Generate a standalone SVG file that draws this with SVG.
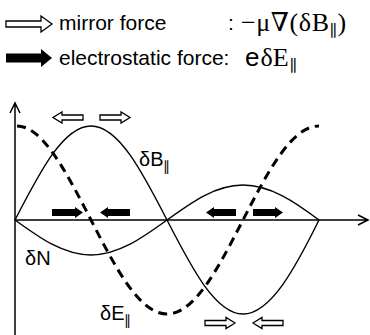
<svg xmlns="http://www.w3.org/2000/svg" width="370" height="335" viewBox="0 0 370 335">
<style>
.sans{font-family:"Liberation Sans",Arial,sans-serif;fill:#000}
.serif{font-family:"Liberation Serif","DejaVu Serif",serif;fill:#000}
.hollow{fill:#fff;stroke:#000;stroke-width:1.3;stroke-linejoin:miter}
.solid{fill:#000;stroke:none}
.axis{fill:none;stroke:#000;stroke-width:1.5}
.curve{fill:none;stroke:#000;stroke-width:1.4}
.dash{fill:none;stroke:#000;stroke-width:3;stroke-dasharray:9 6}
</style>
<rect width="370" height="335" fill="#fff"/>
<g id="legend">
  <path class="hollow" d="M6,21 H41 V16 L52,24 L41,32 V27 H6 Z"/>
  <text class="sans" x="59" y="30" font-size="21">mirror force</text>
  <text class="sans" x="228" y="30" font-size="21">:</text>
  <text class="serif" x="241" y="31" font-size="26" letter-spacing="0.6">−μ∇(δB<tspan font-size="16" dy="5">∥</tspan><tspan dy="-5">)</tspan></text>
  <path class="solid" d="M6,53.5 H41 V49 L52,58 L41,67 V62.5 H6 Z"/>
  <text class="sans" x="59" y="65" font-size="21">electrostatic force:</text>
  <text class="sans" x="245" y="66" font-size="26">e<tspan class="serif" dx="1">δE</tspan><tspan class="serif" font-size="16" dx="1" dy="5">∥</tspan></text>
</g>
<g id="axes">
  <path class="axis" d="M15,335 V103 M10,113 L15,103 L20,113"/>
  <path class="axis" d="M15,220 H368 M358,215 L368,220 L358,225"/>
</g>
<g id="connectors">
  <path id="dB" class="curve" d="M15,220 C39.79,171.84 63.49,126 91,126 C118.51,126 142.21,171.84 167,220 C191.79,268.16 215.49,314 243,314 C270.51,314 295.21,268.16 319,220"/>
  <path id="dN" class="curve" d="M15,220 C39.79,237.93 63.49,255 91,255 C118.51,255 142.21,237.93 167,220 C191.79,202.07 215.49,185 243,185 C270.51,185 295.21,202.07 319,220"/>
  <path id="dE" class="dash" d="M17,126 C42.51,126 66.21,171.84 91,220 C115.79,268.16 139.49,314 167,314 C194.51,314 218.21,268.16 243,220 C267.79,171.84 291.49,126 319,126"/>
</g>
<g id="mirror-arrows">
  <path class="hollow" d="M83,115 H62 V112 L53,117.5 L62,123 V120 H83 Z"/>
  <path class="hollow" d="M100,115 H121 V112 L130,117.5 L121,123 V120 H100 Z"/>
  <path class="hollow" d="M205,320.5 H226 V317.5 L235,323 L226,328.5 V325.5 H205 Z"/>
  <path class="hollow" d="M283,320.5 H262 V317.5 L253,323 L262,328.5 V325.5 H283 Z"/>
</g>
<g id="electrostatic-arrows">
  <path class="solid" d="M52,209 H75 V207 L83,212.5 L75,218 V216 H52 Z"/>
  <path class="solid" d="M130,209 H108 V207 L100,212.5 L108,218 V216 H130 Z"/>
  <path class="solid" d="M236,209 H214 V207 L206,212.5 L214,218 V216 H236 Z"/>
  <path class="solid" d="M253,209 H275 V207 L283,212.5 L275,218 V216 H253 Z"/>
</g>
<g id="labels">
  <text class="sans" x="139" y="166" font-size="20">δB<tspan font-size="14" dy="5">∥</tspan></text>
  <text class="sans" x="25" y="265" font-size="20">δN</text>
  <text class="sans" x="100" y="320" font-size="20">δE<tspan font-size="14" dy="5">∥</tspan></text>
</g>
</svg>
